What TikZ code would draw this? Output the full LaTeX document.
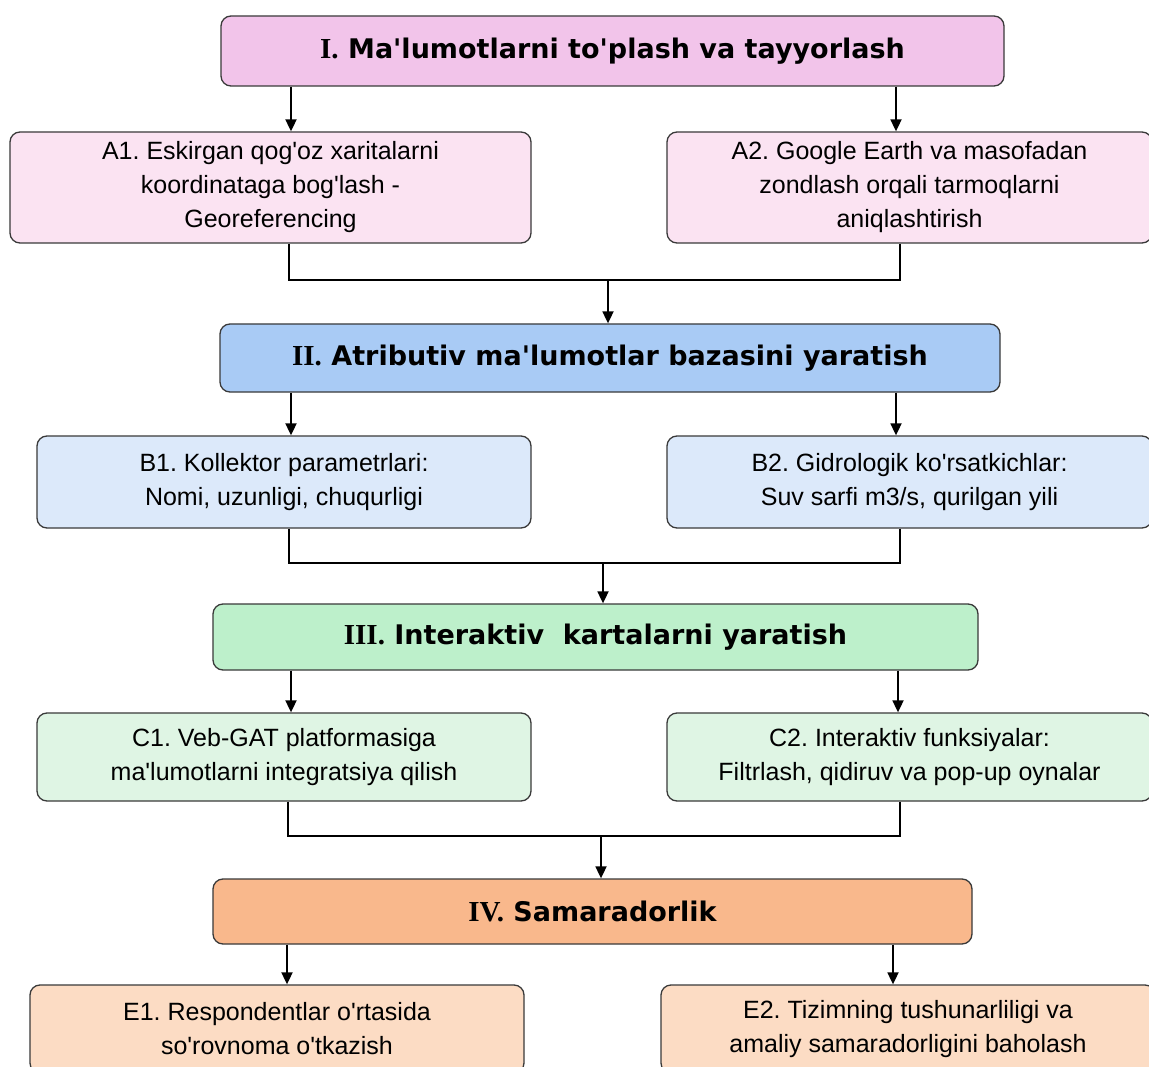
\documentclass[tikz,border=0pt]{standalone}
\usepackage{fontspec}
\setmainfont{Liberation Sans}
\newfontfamily\bodyfont{Liberation Sans}
\newfontfamily\titlefont{DejaVu Sans}
\newfontfamily\numfont{Liberation Serif}
\usetikzlibrary{arrows.meta}
\definecolor{pinkT}{HTML}{F2C4EA}
\definecolor{pinkB}{HTML}{FBE3F2}
\definecolor{blueT}{HTML}{A9CBF5}
\definecolor{blueB}{HTML}{DCE9FA}
\definecolor{greenT}{HTML}{BDF0CB}
\definecolor{greenB}{HTML}{DFF5E4}
\definecolor{orangeT}{HTML}{F9B88C}
\definecolor{orangeB}{HTML}{FCDCC4}
\definecolor{edge}{HTML}{3A3A3A}
\tikzset{
  box/.style={draw=edge, line width=1.3pt, rounded corners=10pt, inner sep=0pt, align=center},
  titlebox/.style={box, font=\fontsize{27}{32}\selectfont\titlefont\bfseries},
  subbox/.style={box, font=\fontsize{25}{34}\selectfont\bodyfont\frenchspacing},
  arr/.style={line width=1.8pt, -{Triangle[length=12pt,width=11pt]}},
  ln/.style={line width=1.8pt}
}
\newcommand{\rn}[1]{{\numfont\bfseries\fontsize{29}{32}\selectfont #1}}
\begin{document}
\begin{tikzpicture}[x=1pt,y=-1pt]
\useasboundingbox (0,0) rectangle (1149,1067);
\fill[white] (0,0) rectangle (1149,1067);
% Level I
\node[titlebox, fill=pinkT, minimum width=783pt, minimum height=70pt] (I) at (612.5,51) {\rn{I.} Ma'lumotlarni to'plash va tayyorlash};
\node[subbox, fill=pinkB, minimum width=521pt, minimum height=111pt] (A1) at (270.5,187.5) {A1. Eskirgan qog'oz xaritalarni\\koordinataga bog'lash -\\Georeferencing};
\node[subbox, fill=pinkB, minimum width=485pt, minimum height=111pt] (A2) at (909.5,187.5) {A2. Google Earth va masofadan\\zondlash orqali tarmoqlarni\\aniqlashtirish};
% Level II
\node[titlebox, fill=blueT, minimum width=780pt, minimum height=68pt] (II) at (610,358) {\rn{II.} Atributiv ma'lumotlar bazasini yaratish};
\node[subbox, fill=blueB, minimum width=494pt, minimum height=92pt] (B1) at (284,482) {B1. Kollektor parametrlari:\\Nomi, uzunligi, chuqurligi};
\node[subbox, fill=blueB, minimum width=485pt, minimum height=92pt] (B2) at (909.5,482) {B2. Gidrologik ko'rsatkichlar:\\Suv sarfi m3/s, qurilgan yili};
% Level III
\node[titlebox, fill=greenT, minimum width=765pt, minimum height=66pt] (III) at (595.5,637) {\rn{III.} Interaktiv\ \ kartalarni yaratish};
\node[subbox, fill=greenB, minimum width=494pt, minimum height=88pt] (C1) at (284,757) {C1. Veb-GAT platformasiga\\ma'lumotlarni integratsiya qilish};
\node[subbox, fill=greenB, minimum width=485pt, minimum height=88pt] (C2) at (909.5,757) {C2. Interaktiv funksiyalar:\\Filtrlash, qidiruv va pop-up oynalar};
% Level IV
\node[titlebox, fill=orangeT, minimum width=759pt, minimum height=65pt] (IV) at (592.5,911.5) {\rn{IV.} Samaradorlik};
\node[subbox, fill=orangeB, minimum width=494pt, minimum height=88pt] (E1) at (277,1029) {E1. Respondentlar o'rtasida\\so'rovnoma o'tkazish};
\node[subbox, fill=orangeB, minimum width=494pt, minimum height=88pt] (E2) at (908,1029) {E2. Tizimning tushunarliligi va\\amaliy samaradorligini baholash};
% connectors I -> A
\draw[arr] (I.south -| 291,0) -- (A1.north -| 291,0);
\draw[arr] (I.south -| 896,0) -- (A2.north -| 896,0);
\coordinate (j1) at (608,280);
\draw[ln] (A1.south -| 289,0) |- (j1);
\draw[ln] (A2.south -| 900,0) |- (j1);
\draw[arr] (j1) -- (II.north -| j1);
% II -> B
\draw[arr] (II.south -| 291,0) -- (B1.north -| 291,0);
\draw[arr] (II.south -| 896,0) -- (B2.north -| 896,0);
\coordinate (j2) at (603,563);
\draw[ln] (B1.south -| 289,0) |- (j2);
\draw[ln] (B2.south -| 900,0) |- (j2);
\draw[arr] (j2) -- (III.north -| j2);
% III -> C
\draw[arr] (III.south -| 291,0) -- (C1.north -| 291,0);
\draw[arr] (III.south -| 898,0) -- (C2.north -| 898,0);
\coordinate (j3) at (601,836);
\draw[ln] (C1.south -| 288,0) |- (j3);
\draw[ln] (C2.south -| 900,0) |- (j3);
\draw[arr] (j3) -- (IV.north -| j3);
% IV -> E
\draw[arr] (IV.south -| 287,0) -- (E1.north -| 287,0);
\draw[arr] (IV.south -| 893,0) -- (E2.north -| 893,0);
\end{tikzpicture}
\end{document}
